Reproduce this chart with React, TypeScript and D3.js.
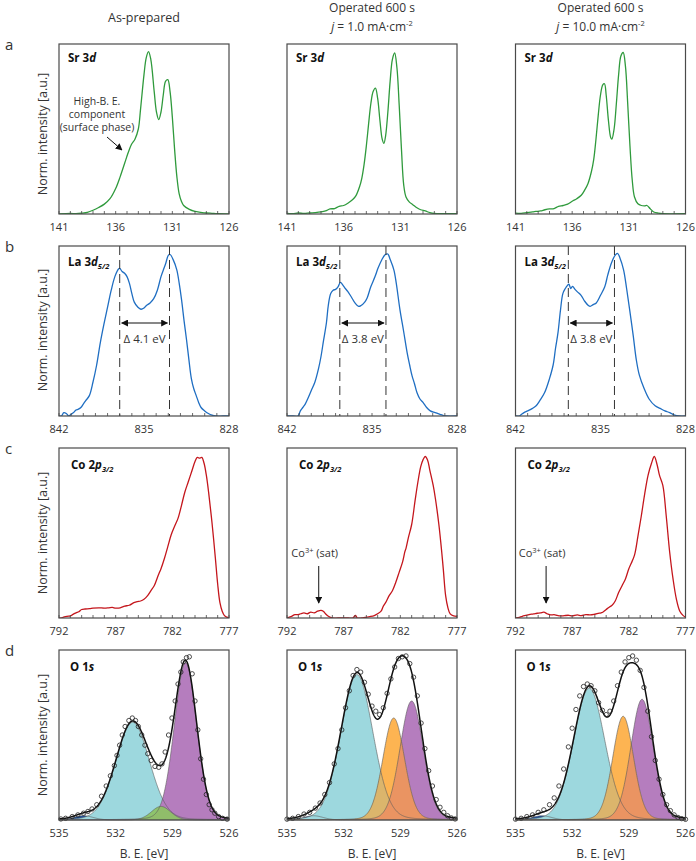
import React from 'react';
import * as d3 from 'd3';

// ---------- layout ----------
const W = 170, H = 170;
const colX = [59, 287, 515.5];
const rowY = [44, 246, 448, 650];

// ---------- axis data ----------
const rowDomains: [number, number][] = [[141, 126], [842, 828], [792, 777], [535, 526]];
const srTickLabels = [141, 136, 131, 126];
const laTickLabels = [842, 835, 828];
const coTickLabels = [792, 787, 782, 777];
const oTickLabels = [535, 532, 529, 526];
const rowTickLabels = [srTickLabels, laTickLabels, coTickLabels, oTickLabels];
const rowLetters = ['a', 'b', 'c', 'd'];
const colHeaders = [['As-prepared'], ['Operated 600 s', '1.0'], ['Operated 600 s', '10.0']];

// ---------- Sr 3d ----------
const srAsPrep: [number, number][] = [[141,0],[140,0.003],[139.5,0.002],[139,0.005],[138.5,0.01],[138,0.022],[137.5,0.038],[137,0.058],[136.5,0.09],[136,0.15],[135.6,0.22],[135.2,0.30],[134.9,0.36],[134.6,0.41],[134.3,0.44],[134.0,0.50],[133.8,0.62],[133.5,0.82],[133.3,0.92],[133.1,0.955],[132.9,0.91],[132.6,0.72],[132.4,0.6],[132.2,0.555],[132.0,0.6],[131.8,0.70],[131.6,0.78],[131.4,0.79],[131.2,0.72],[131.0,0.57],[130.8,0.38],[130.6,0.22],[130.4,0.12],[130.2,0.075],[130.0,0.05],[129.5,0.027],[129,0.015],[128.5,0.01],[128,0.006],[127.5,0.004],[127,0.002],[126,0.001]];
const srOp1: [number, number][] = [[141,0.004],[140.5,0.002],[140,0.006],[139.5,0.003],[139,0.006],[138.5,0.008],[138,0.012],[137.6,0.018],[137.2,0.03],[136.8,0.032],[136.4,0.045],[136,0.05],[135.6,0.065],[135.2,0.085],[134.9,0.11],[134.6,0.16],[134.4,0.21],[134.2,0.29],[134,0.4],[133.8,0.53],[133.6,0.65],[133.4,0.72],[133.2,0.74],[133.0,0.68],[132.8,0.55],[132.6,0.44],[132.45,0.415],[132.3,0.46],[132.1,0.6],[131.9,0.78],[131.7,0.91],[131.5,0.947],[131.3,0.86],[131.1,0.64],[130.9,0.38],[130.7,0.17],[130.5,0.1],[130.2,0.07],[129.9,0.055],[129.5,0.035],[129.2,0.025],[128.8,0.018],[128.4,0.008],[128,0.003],[127,0.002],[126,0.002]];
const srOp10: [number, number][] = [[141,0.005],[140.5,0.004],[140,0.008],[139.5,0.012],[139.2,0.015],[138.8,0.018],[138.4,0.025],[138,0.03],[137.6,0.032],[137.2,0.045],[136.8,0.05],[136.4,0.058],[136,0.075],[135.6,0.09],[135.2,0.11],[134.9,0.14],[134.6,0.18],[134.3,0.25],[134.1,0.32],[133.9,0.44],[133.7,0.58],[133.5,0.70],[133.3,0.76],[133.15,0.766],[133.0,0.70],[132.8,0.55],[132.6,0.45],[132.5,0.44],[132.3,0.5],[132.1,0.65],[131.9,0.82],[131.7,0.93],[131.5,0.95],[131.3,0.87],[131.1,0.65],[130.9,0.4],[130.7,0.2],[130.5,0.1],[130.2,0.06],[129.9,0.05],[129.6,0.048],[129.4,0.05],[129.1,0.03],[128.8,0.012],[128.4,0.005],[128,0.002],[126,0.002]];

// ---------- La 3d5/2 ----------
const laAsPrep: [number, number][] = [[842,0.0],[841.8,0.0],[841.6,0.02],[841.4,0.015],[841.2,0.0],[841,0.01],[840.8,0.02],[840.6,0.035],[840.4,0.04],[840.2,0.05],[840,0.07],[839.8,0.09],[839.5,0.12],[839.2,0.2],[838.9,0.3],[838.6,0.43],[838.3,0.54],[838,0.64],[837.7,0.74],[837.4,0.82],[837.1,0.865],[837.0,0.868],[836.8,0.85],[836.6,0.84],[836.4,0.82],[836.2,0.78],[836,0.72],[835.8,0.67],[835.5,0.64],[835.25,0.628],[835,0.635],[834.8,0.65],[834.5,0.665],[834.2,0.69],[833.9,0.74],[833.6,0.82],[833.4,0.86],[833.2,0.9],[833,0.945],[832.85,0.95],[832.6,0.92],[832.3,0.86],[832.1,0.78],[831.9,0.68],[831.7,0.56],[831.5,0.45],[831.3,0.33],[831.1,0.22],[830.9,0.16],[830.7,0.12],[830.5,0.08],[830.3,0.05],[830,0.03],[829.7,0.015],[829.4,0.005],[829.1,0],[828.5,0],[828,0]];
const laOp1: [number, number][] = [[842,0],[841.5,0],[841.1,0.0],[840.9,0.03],[840.7,0.05],[840.5,0.07],[840.3,0.1],[840,0.15],[839.7,0.2],[839.4,0.28],[839.2,0.35],[839,0.44],[838.75,0.55],[838.6,0.65],[838.4,0.72],[838.2,0.74],[838,0.745],[837.8,0.76],[837.6,0.786],[837.4,0.77],[837.2,0.75],[837,0.733],[836.7,0.7],[836.4,0.665],[836.1,0.645],[835.9,0.65],[835.6,0.67],[835.4,0.694],[835.1,0.76],[834.75,0.82],[834.5,0.87],[834.2,0.918],[833.9,0.95],[833.7,0.953],[833.5,0.92],[833.2,0.86],[833,0.78],[832.7,0.626],[832.4,0.5],[832.1,0.37],[831.9,0.3],[831.7,0.236],[831.5,0.19],[831.3,0.138],[831.05,0.1],[830.8,0.08],[830.5,0.05],[830.2,0.03],[829.8,0.02],[829.4,0.01],[829.2,0.005],[828.9,0.0],[828,0]];
const laOp10: [number, number][] = [[842,0],[841.7,0.0],[841.5,0.01],[841.3,0.02],[841,0.03],[840.6,0.045],[840.3,0.06],[840,0.09],[839.6,0.138],[839.2,0.22],[838.9,0.3],[838.7,0.4],[838.5,0.49],[838.3,0.62],[838.1,0.72],[837.9,0.75],[837.7,0.77],[837.6,0.776],[837.45,0.75],[837.3,0.762],[837.1,0.745],[836.9,0.73],[836.6,0.71],[836.3,0.675],[836.0,0.65],[835.85,0.645],[835.6,0.655],[835.35,0.665],[835.0,0.71],[834.65,0.76],[834.4,0.83],[834.1,0.9],[833.8,0.945],[833.6,0.957],[833.4,0.93],[833.1,0.86],[832.85,0.75],[832.6,0.626],[832.3,0.47],[832.05,0.33],[831.8,0.24],[831.4,0.16],[831,0.1],[830.5,0.06],[830.1,0.045],[829.7,0.03],[829.3,0.02],[828.9,0.005],[828.5,0],[828,0]];
const laPeakPairs: [number, number][] = [[837.0, 832.9], [837.65, 833.85], [837.65, 833.85]];
const laDeltaLabels = ['Δ 4.1 eV', 'Δ 3.8 eV', 'Δ 3.8 eV'];

// ---------- Co 2p3/2 ----------
const coAsPrep: [number, number][] = [[792,0],[791.8,0],[791.6,0.005],[791.3,0.01],[791.0,0.012],[790.8,0.02],[790.5,0.03],[790.25,0.037],[790,0.05],[789.7,0.053],[789.3,0.055],[789,0.058],[788.5,0.06],[788,0.058],[787.6,0.06],[787.3,0.062],[787,0.058],[786.6,0.06],[786.2,0.07],[785.8,0.075],[785.4,0.09],[785.1,0.097],[784.8,0.1],[784.5,0.11],[784.2,0.13],[783.9,0.16],[783.6,0.19],[783.25,0.25],[783,0.29],[782.7,0.35],[782.4,0.42],[782.1,0.49],[781.8,0.54],[781.5,0.586],[781.2,0.66],[780.9,0.74],[780.6,0.8],[780.3,0.86],[780.0,0.92],[779.8,0.945],[779.6,0.94],[779.4,0.945],[779.2,0.91],[779.0,0.84],[778.8,0.74],[778.5,0.56],[778.2,0.35],[778,0.2],[777.8,0.09],[777.6,0.04],[777.4,0.014],[777.2,0.005],[777,0]];
const coOp1: [number, number][] = [[792,0],[791.8,0.005],[791.6,0.01],[791.3,0.02],[791,0.02],[790.8,0.025],[790.5,0.03],[790.2,0.025],[789.9,0.035],[789.6,0.03],[789.3,0.04],[789.0,0.045],[788.8,0.04],[788.6,0.025],[788.35,0.01],[788.0,0.0],[787.5,0.0],[787,0.0],[786.6,0],[786.2,0.0],[785.95,0.016],[785.8,0.0],[785.4,0.0],[785.1,0.004],[784.7,0.008],[784.3,0.014],[784,0.025],[783.7,0.04],[783.5,0.07],[783.3,0.09],[783.0,0.13],[782.7,0.16],[782.4,0.21],[782.1,0.27],[781.8,0.33],[781.6,0.39],[781.5,0.41],[781.3,0.47],[781.0,0.55],[780.7,0.69],[780.45,0.8],[780.2,0.89],[780.0,0.93],[779.8,0.95],[779.6,0.93],[779.4,0.87],[779.1,0.78],[778.9,0.7],[778.6,0.55],[778.35,0.39],[778.2,0.28],[778.0,0.13],[777.8,0.06],[777.6,0.024],[777.3,0.012],[777,0.01]];
const coOp10: [number, number][] = [[792,0],[791.6,0.005],[791.4,0.01],[791.1,0.015],[790.8,0.02],[790.4,0.024],[790.1,0.028],[789.8,0.03],[789.5,0.034],[789.2,0.025],[788.9,0.018],[788.6,0.02],[788.3,0.015],[788,0.012],[787.7,0.014],[787.3,0.016],[787,0.012],[786.55,0.018],[786.2,0.014],[785.8,0.02],[785.4,0.018],[785.0,0.022],[784.6,0.028],[784.3,0.034],[784.0,0.05],[783.7,0.065],[783.5,0.073],[783.2,0.1],[782.9,0.15],[782.6,0.19],[782.3,0.23],[782.0,0.29],[781.8,0.32],[781.5,0.37],[781.2,0.48],[780.9,0.6],[780.6,0.73],[780.3,0.84],[780.0,0.91],[779.75,0.95],[779.5,0.9],[779.3,0.84],[779.0,0.78],[778.7,0.6],[778.4,0.39],[778.1,0.23],[777.8,0.11],[777.5,0.04],[777.2,0.014],[777,0.005]];
const coSatBE = [null, 789.2, 789.3];

// ---------- O 1s: fitted components [center, height, fwhm] ----------
const oBlue = [[533.7, 0.025, 1.2], [533.6, 0.025, 1.2], [533.6, 0.025, 1.2]];
const oCyan = [[531.1, 0.575, 2.1], [531.3, 0.855, 2.0], [531.1, 0.775, 1.95]];
const oGreen = [[529.6, 0.08, 1.2], null, null];
const oOrange = [null, [529.35, 0.6, 1.35], [529.3, 0.61, 1.3]];
const oPurple = [[528.3, 0.925, 1.4], [528.4, 0.70, 1.45], [528.3, 0.71, 1.4]];
// measured points
const oPts1: [number, number][] = [[534.9,0.006],[534.65,0.01],[534.3,0.02],[534.0,0.03],[533.7,0.04],[533.47,0.05],[533.25,0.065],[533.0,0.09],[532.75,0.14],[532.5,0.2],[532.28,0.26],[532.07,0.32],[531.93,0.38],[531.79,0.44],[531.65,0.5],[531.5,0.55],[531.3,0.585],[531.12,0.6],[530.95,0.585],[530.8,0.55],[530.62,0.5],[530.45,0.44],[530.3,0.39],[530.12,0.35],[529.92,0.315],[529.72,0.31],[529.55,0.33],[529.38,0.4],[529.2,0.5],[529.02,0.6],[528.85,0.7],[528.7,0.8],[528.55,0.87],[528.42,0.93],[528.25,0.955],[528.1,0.96],[527.95,0.86],[527.8,0.7],[527.65,0.53],[527.5,0.36],[527.35,0.24],[527.2,0.15],[527.05,0.09],[526.9,0.06],[526.75,0.04],[526.55,0.02],[526.35,0.01],[526.1,0.005]];
const oPts2: [number, number][] = [[535.0,0.005],[534.7,0.01],[534.4,0.02],[534.1,0.035],[533.8,0.045],[533.5,0.07],[533.25,0.10],[533.0,0.15],[532.75,0.22],[532.5,0.33],[532.3,0.42],[532.1,0.53],[531.9,0.66],[531.7,0.76],[531.5,0.85],[531.3,0.885],[531.1,0.87],[530.9,0.81],[530.7,0.74],[530.5,0.67],[530.3,0.64],[530.1,0.62],[529.9,0.66],[529.7,0.745],[529.5,0.83],[529.3,0.9],[529.1,0.95],[528.9,0.96],[528.7,0.965],[528.5,0.92],[528.3,0.84],[528.1,0.73],[527.9,0.57],[527.7,0.42],[527.5,0.29],[527.3,0.2],[527.1,0.12],[526.9,0.075],[526.7,0.045],[526.5,0.025],[526.3,0.012],[526.1,0.006]];
const oPts3: [number, number][] = [[535.0,0.005],[534.7,0.01],[534.4,0.02],[534.1,0.03],[533.8,0.045],[533.5,0.06],[533.2,0.09],[532.95,0.13],[532.7,0.2],[532.45,0.3],[532.2,0.43],[532.0,0.54],[531.8,0.65],[531.6,0.73],[531.4,0.785],[531.2,0.8],[531.0,0.79],[530.8,0.76],[530.6,0.69],[530.4,0.645],[530.2,0.62],[530.0,0.64],[529.8,0.7],[529.6,0.79],[529.4,0.87],[529.2,0.93],[529.0,0.955],[528.8,0.965],[528.6,0.94],[528.4,0.88],[528.2,0.78],[528.0,0.64],[527.8,0.49],[527.6,0.35],[527.4,0.24],[527.2,0.15],[527.0,0.09],[526.8,0.055],[526.6,0.03],[526.4,0.015],[526.2,0.008],[526.0,0.004]];
const oPoints = [oPts1, oPts2, oPts3];

const srSeries = [srAsPrep, srOp1, srOp10];
const laSeries = [laAsPrep, laOp1, laOp10];
const coSeries = [coAsPrep, coOp1, coOp10];

// ---------- styles ----------
const FONT = '"Open Sans", "Noto Sans", sans-serif';
const TXT = '#333';
const C_SR = '#2f9a3c';
const C_LA = '#1f6ec2';
const C_CO = '#c4161c';
const C_CYAN = '#9dd8de';
const C_PURPLE = '#b57dbe';
const C_ORANGE = '#fdb452';
const C_GREEN = '#8dc263';
const C_BLUE = '#1c4f9f';
const C_OV_CO = '#dbb56c';
const C_OV_OP = '#ea9462';

const ETA = 0.1;
function pv(x: number, p: number[] | null) {
  if (!p) return 0;
  const [c, h, f] = p;
  const u = ((x - c) / f) ** 2;
  return h * ((1 - ETA) * Math.exp(-4 * Math.LN2 * u) + ETA / (1 + 4 * u));
}

function App() {
  const grid = d3.range(526, 535.0001, 0.02);
  const line = d3.line<[number, number]>().curve(d3.curveCatmullRom.alpha(0.5));

  const panels: React.ReactNode[] = [];

  for (let r = 0; r < 4; r++) {
    for (let c = 0; c < 3; c++) {
      const x0 = colX[c], y0 = rowY[r];
      const xs = d3.scaleLinear().domain(rowDomains[r]).range([x0, x0 + W]);
      const ys = d3.scaleLinear().domain([0, 1]).range([y0 + H, y0]);
      const clipId = `clip-${r}-${c}`;
      const els: React.ReactNode[] = [];
      const toPath = (data: [number, number][]) => line(data.map(d => [xs(d[0]), ys(d[1])] as [number, number])) || '';

      if (r < 3) {
        const series = [srSeries, laSeries, coSeries][r][c];
        const color = [C_SR, C_LA, C_CO][r];
        els.push(<path key="s" d={toPath(series)} fill="none" stroke={color} strokeWidth={1.3} clipPath={`url(#${clipId})`} />);
      }

      if (r === 1) {
        const [p1, p2] = laPeakPairs[c];
        const xa = xs(p1), xb = xs(p2);
        els.push(<line key="d1" x1={xa} x2={xa} y1={y0} y2={y0 + H} stroke="#333" strokeWidth={1} strokeDasharray="9,5" />);
        els.push(<line key="d2" x1={xb} x2={xb} y1={y0} y2={y0 + H} stroke="#333" strokeWidth={1} strokeDasharray="9,5" />);
        const ay = y0 + 77;
        els.push(<line key="da" x1={xa + 2} x2={xb - 2} y1={ay} y2={ay} stroke="#111" strokeWidth={1.1} markerStart="url(#ahs)" markerEnd="url(#ah)" />);
        els.push(<text key="dt" x={(xa + xb) / 2} y={ay + 20} textAnchor="middle" fontSize={11.5} fill={TXT} fontFamily={FONT}>{laDeltaLabels[c]}</text>);
      }

      if (r === 2 && coSatBE[c] != null) {
        const ax = xs(coSatBE[c] as number);
        els.push(<text key="ct" x={ax - 4} y={557} textAnchor="middle" fontSize={11} fill={TXT} fontFamily={FONT}>Co<tspan fontSize={7.5} dy={-4}>3+</tspan><tspan dy={4}> (sat)</tspan></text>);
        els.push(<line key="ca" x1={ax} x2={ax} y1={566} y2={603} stroke="#111" strokeWidth={1} markerEnd="url(#ah)" />);
      }

      if (r === 3) {
        const comp = (p: number[] | null) => grid.map(x => [x, pv(x, p)] as [number, number]);
        const area = d3.area<[number, number]>().x(d => xs(d[0])).y0(ys(0)).y1(d => ys(d[1]));
        const outline = d3.line<[number, number]>().x(d => xs(d[0])).y(d => ys(d[1]));
        const cy = oCyan[c], pu = oPurple[c], or = oOrange[c], gr = oGreen[c], bl = oBlue[c];
        const fills: [number[] | null, string][] = [[bl, C_BLUE], [cy, C_CYAN], [pu, C_PURPLE], [or, C_ORANGE]];
        fills.forEach(([p, col], i) => {
          if (p) els.push(<path key={`f${i}`} d={area(comp(p)) || ''} fill={col} />);
        });
        if (or) {
          const ovCO = grid.map(x => [x, Math.min(pv(x, cy), pv(x, or))] as [number, number]);
          const ovOP = grid.map(x => [x, Math.min(pv(x, or), pv(x, pu))] as [number, number]);
          els.push(<path key="o1" d={area(ovCO) || ''} fill={C_OV_CO} />);
          els.push(<path key="o2" d={area(ovOP) || ''} fill={C_OV_OP} />);
        }
        if (gr) els.push(<path key="fg" d={area(comp(gr)) || ''} fill={C_GREEN} fillOpacity={0.92} />);
        [bl, cy, pu, or, gr].forEach((p, i) => {
          if (p) els.push(<path key={`l${i}`} d={outline(comp(p)) || ''} fill="none" stroke="#5a5a5a" strokeWidth={0.6} />);
        });
        const env = grid.map(x => [x, pv(x, bl) + pv(x, cy) + pv(x, pu) + pv(x, or) + pv(x, gr)] as [number, number]);
        els.push(<path key="env" d={outline(env) || ''} fill="none" stroke="#111" strokeWidth={1.5} />);
        oPoints[c].forEach((d, i) => {
          els.push(<circle key={`pt${i}`} cx={xs(d[0])} cy={ys(d[1])} r={2.2} fill="none" stroke="#222" strokeWidth={0.8} />);
        });
      }

      // minor ticks
      if (r < 3) {
        const [a, b] = rowDomains[r];
        d3.range(Math.min(a, b), Math.max(a, b) + 0.001, 1).forEach(t => {
          els.push(<line key={`t${t}`} x1={xs(t)} x2={xs(t)} y1={y0 + H} y2={y0 + H - 3} stroke="#444" strokeWidth={0.8} />);
        });
      }

      // tick labels
      rowTickLabels[r].forEach(t => {
        els.push(<text key={`tl${t}`} x={xs(t)} y={y0 + H + 17} textAnchor="middle" fontSize={11} fill={TXT} fontFamily={FONT}>{t}</text>);
      });

      // frame
      els.push(<rect key="frame" x={x0} y={y0} width={W} height={H} fill="none" stroke="#4a4a4a" strokeWidth={1.2} />);

      // title
      const tx = x0 + [9, 9, 12, 11][r], ty = y0 + [18, 20, 21, 21][r];
      let title: React.ReactNode;
      if (r === 0) title = <>Sr 3<tspan fontStyle="italic">d</tspan></>;
      else if (r === 1) title = <>La 3<tspan fontStyle="italic">d</tspan><tspan fontStyle="italic" fontSize={7.5} dy={3}>5/2</tspan></>;
      else if (r === 2) title = <>Co 2<tspan fontStyle="italic">p</tspan><tspan fontStyle="italic" fontSize={7.5} dy={3}>3/2</tspan></>;
      else title = <>O 1<tspan fontStyle="italic">s</tspan></>;
      els.push(<text key="title" x={tx} y={ty} fontSize={11.5} fontWeight="bold" fill="#111" fontFamily={FONT}>{title}</text>);

      panels.push(
        <g key={`p${r}${c}`}>
          <defs>
            <clipPath id={clipId}><rect x={x0} y={y0} width={W} height={H} /></clipPath>
          </defs>
          {els}
        </g>
      );
    }
  }

  const yLabelCenters = [134, 330, 533, 735];

  return (
    <svg width={696} height={861} style={{ position: 'absolute', left: 0, top: 0, background: '#fff' }} fontFamily={FONT}>
      <defs>
        <marker id="ah" viewBox="0 0 10 10" refX="9" refY="5" markerWidth="7" markerHeight="7" orient="auto" markerUnits="userSpaceOnUse">
          <path d="M0,0 L10,5 L0,10 z" fill="#111" />
        </marker>
        <marker id="ahs" viewBox="0 0 10 10" refX="9" refY="5" markerWidth="7" markerHeight="7" orient="auto-start-reverse" markerUnits="userSpaceOnUse">
          <path d="M0,0 L10,5 L0,10 z" fill="#111" />
        </marker>
      </defs>
      <rect x={0} y={0} width={696} height={861} fill="#fff" />

      {/* column headers */}
      <text x={colX[0] + W / 2} y={22} textAnchor="middle" fontSize={12.5} fill={TXT}>{colHeaders[0][0]}</text>
      {[1, 2].map(c => (
        <g key={`h${c}`}>
          <text x={colX[c] + W / 2} y={12} textAnchor="middle" fontSize={12} fill={TXT}>{colHeaders[c][0]}</text>
          <text x={colX[c] + W / 2} y={31} textAnchor="middle" fontSize={12} fill={TXT}>
            <tspan fontStyle="italic">j</tspan> = {colHeaders[c][1]} mA·cm<tspan fontSize={7.5} dy={-5}>-2</tspan>
          </text>
        </g>
      ))}

      {/* row letters */}
      {rowLetters.map((l, i) => (
        <text key={l} x={5} y={rowY[i] + 6} fontSize={15} fill={TXT}>{l}</text>
      ))}

      {/* y labels */}
      {yLabelCenters.map((cy, i) => (
        <text key={`yl${i}`} transform={`translate(47,${cy}) rotate(-90)`} textAnchor="middle" fontSize={12.5} fill={TXT}>Norm. intensity [a.u.]</text>
      ))}

      {panels}

      {/* Sr annotation */}
      <g fontSize={10.5} fill={TXT} textAnchor="middle">
        <text x={97} y={105}>High-B. E.</text>
        <text x={97} y={118}>component</text>
        <text x={97} y={131}>(surface phase)</text>
      </g>
      <line x1={107} y1={137} x2={122} y2={150} stroke="#111" strokeWidth={1} markerEnd="url(#ah)" />

      {/* x labels */}
      {[0, 1, 2].map(c => (
        <text key={`xl${c}`} x={colX[c] + W / 2} y={858} textAnchor="middle" fontSize={12} fill={TXT}>B. E. [eV]</text>
      ))}
    </svg>
  );
}

export default App;
